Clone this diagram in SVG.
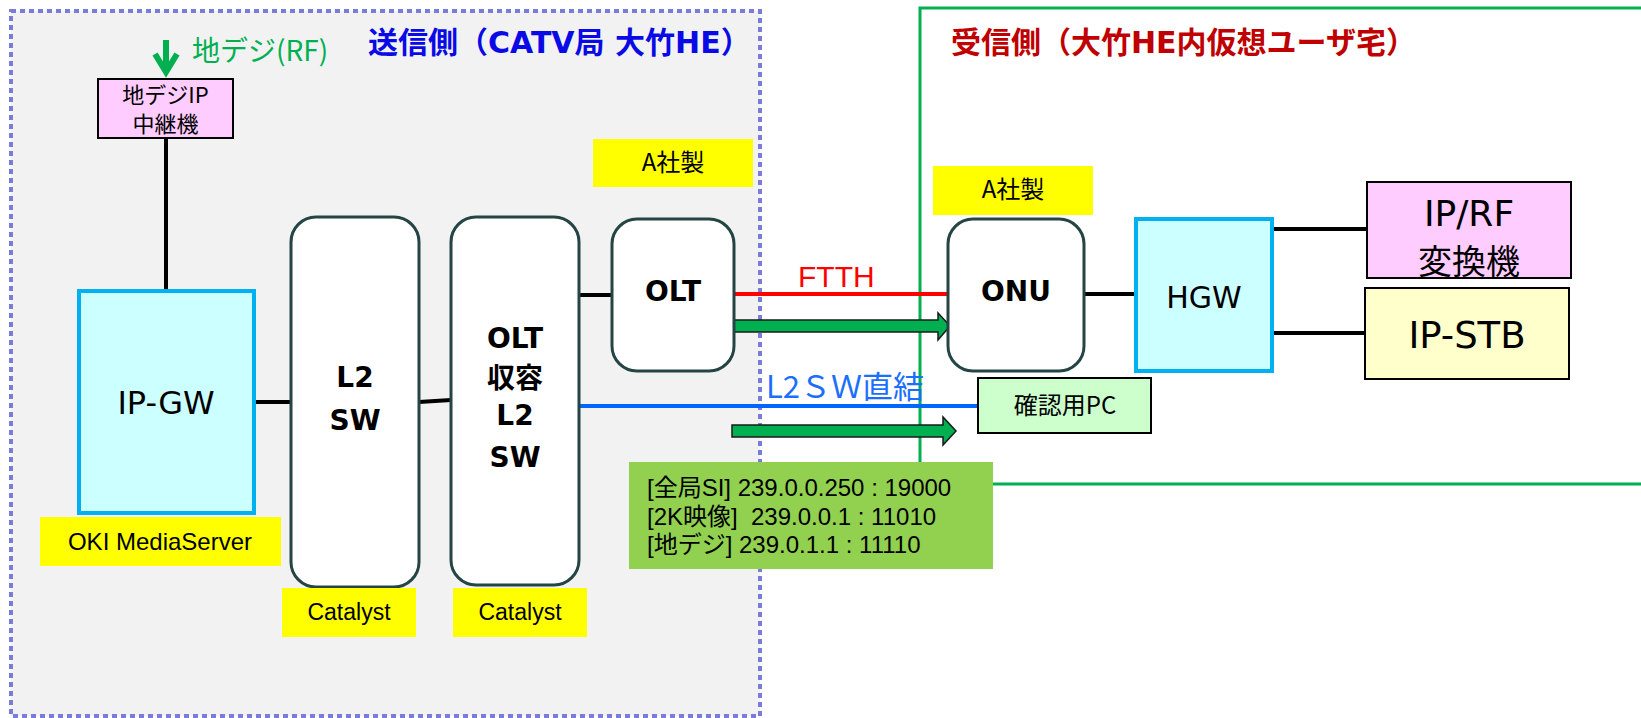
<svg xmlns="http://www.w3.org/2000/svg" width="1641" height="718" viewBox="0 0 1641 718">
<style>
.jp{font-family:"Noto Sans CJK JP","Liberation Sans",sans-serif}
.lat{font-family:"DejaVu Sans","Noto Sans CJK JP",sans-serif}
.ar{font-family:"Liberation Sans","Noto Sans CJK JP",sans-serif}
.c{text-anchor:middle}
.dev{fill:#ffffff;stroke:#254545;stroke-width:3}
.ylw{fill:#ffff00}
.wire{stroke:#000;stroke-width:4;fill:none}
.big{font-size:28px;font-weight:bold;fill:#000}
.arrowg{fill:#00b050;stroke:#1a1a1a;stroke-width:1.5}
</style>
<rect width="1641" height="718" fill="#ffffff"/>
<g id="sender-area">
<rect x="11" y="11" width="749" height="705" fill="#f2f2f2" stroke="#7b7bd9" stroke-width="4" stroke-dasharray="5 4"/>
<text class="lat" x="368" y="53" font-size="30" font-weight="bold" fill="#0a0ae6">送信側（CATV局 大竹HE）</text>
</g>
<g id="receiver-area">
<polyline points="1641,8 920,8 920,484 1641,484" fill="none" stroke="#00b050" stroke-width="3"/>
<text class="lat" x="951" y="53" font-size="30" font-weight="bold" fill="#c00000">受信側（大竹HE内仮想ユーザ宅）</text>
</g>
<g id="connectors">
<line class="wire" x1="166" y1="138" x2="166" y2="291"/>
<line class="wire" x1="254" y1="402" x2="291" y2="402"/>
<line class="wire" x1="419" y1="402" x2="451" y2="400"/>
<line class="wire" x1="579" y1="295" x2="612" y2="295"/>
<line class="wire" x1="1084" y1="294" x2="1136" y2="294"/>
<line class="wire" x1="1272" y1="229" x2="1367" y2="229"/>
<line class="wire" x1="1272" y1="333" x2="1365" y2="333"/>
<line x1="734" y1="294" x2="948" y2="294" stroke="#ff0000" stroke-width="4"/>
<line x1="579" y1="406" x2="978" y2="406" stroke="#0066ff" stroke-width="4"/>
<text class="ar" x="798" y="287" font-size="30" fill="#ff0000">FTTH</text>
<text class="jp" x="766" y="398" font-size="31" fill="#1a6fff">L2ＳＷ直結</text>
<polygon class="arrowg" points="728,320 938,320 938,313 950,326 938,340 938,332 728,332"/>
<polygon class="arrowg" points="732,425 943,425 943,417 956,431 943,445 943,437 732,437"/>
<line x1="166" y1="40" x2="166" y2="72" stroke="#00b050" stroke-width="6"/>
<polyline points="155,54 166,72 177,54" fill="none" stroke="#00b050" stroke-width="6" stroke-linejoin="miter" stroke-miterlimit="10"/>
<text class="jp" x="192" y="61" font-size="28" fill="#00b050">地デジ(RF)</text>
</g>
<g id="relay">
<rect x="98" y="79" width="135" height="59" fill="#ffccff" stroke="#000" stroke-width="2"/>
<text class="jp c" x="165.5" y="103" font-size="22">地デジIP</text>
<text class="jp c" x="165.5" y="132" font-size="22">中継機</text>
</g>
<g id="ipgw">
<rect x="79" y="291" width="175" height="222" fill="#ccffff" stroke="#00b0f0" stroke-width="4"/>
<text class="lat c" x="166" y="414" font-size="32">IP-GW</text>
</g>
<g id="oki-label">
<rect class="ylw" x="40" y="517" width="241" height="49"/>
<text class="ar c" x="160" y="550" font-size="24">OKI MediaServer</text>
</g>
<g id="l2sw">
<rect class="dev" x="291" y="217" width="128" height="370" rx="25"/>
<text class="lat c big" x="355" y="387">L2</text>
<text class="lat c big" x="355" y="430">SW</text>
</g>
<g id="catalyst1">
<rect class="ylw" x="282" y="588" width="134" height="49"/>
<text class="ar c" x="349" y="620" font-size="23">Catalyst</text>
</g>
<g id="olt-l2sw">
<rect class="dev" x="451" y="217" width="128" height="368" rx="25"/>
<text class="lat c big" x="515" y="348">OLT</text>
<text class="jp c big" x="515" y="388">収容</text>
<text class="lat c big" x="515" y="425">L2</text>
<text class="lat c big" x="515" y="467">SW</text>
</g>
<g id="catalyst2">
<rect class="ylw" x="453" y="588" width="134" height="49"/>
<text class="ar c" x="520" y="620" font-size="23">Catalyst</text>
</g>
<g id="label-a1">
<rect class="ylw" x="593" y="139" width="160" height="48"/>
<text class="jp c" x="673" y="171" font-size="24">A社製</text>
</g>
<g id="olt">
<rect class="dev" x="612" y="219" width="122" height="152" rx="25"/>
<text class="lat c big" x="673" y="301">OLT</text>
</g>
<g id="label-a2">
<rect class="ylw" x="933" y="166" width="160" height="49"/>
<text class="jp c" x="1013" y="198" font-size="24">A社製</text>
</g>
<g id="onu">
<rect class="dev" x="948" y="219" width="136" height="152" rx="25"/>
<text class="lat c big" x="1016" y="301">ONU</text>
</g>
<g id="hgw">
<rect x="1136" y="219" width="136" height="152" fill="#ccffff" stroke="#00b0f0" stroke-width="4"/>
<text class="lat c" x="1204" y="308" font-size="30">HGW</text>
</g>
<g id="iprf">
<rect x="1367" y="182" width="204" height="96" fill="#ffccff" stroke="#000" stroke-width="2"/>
<text class="lat c" x="1469" y="226" font-size="36">IP/RF</text>
<text class="jp c" x="1469" y="274" font-size="34">変換機</text>
</g>
<g id="ipstb">
<rect x="1365" y="288" width="204" height="91" fill="#ffffcc" stroke="#000" stroke-width="2"/>
<text class="lat c" x="1467" y="348" font-size="37">IP-STB</text>
</g>
<g id="pc">
<rect x="978" y="378" width="173" height="55" fill="#ccffcc" stroke="#000" stroke-width="2"/>
<text class="jp c" x="1065" y="414" font-size="24">確認用PC</text>
</g>
<g id="info">
<rect x="629" y="462" width="364" height="107" fill="#92d050"/>
<text class="ar" x="647" y="496" font-size="24" xml:space="preserve">[全局SI] 239.0.0.250 : 19000</text>
<text class="ar" x="647" y="525" font-size="24" xml:space="preserve">[2K映像]  239.0.0.1 : 11010</text>
<text class="ar" x="647" y="553" font-size="24" xml:space="preserve">[地デジ] 239.0.1.1 : 11110</text>
</g>
</svg>
